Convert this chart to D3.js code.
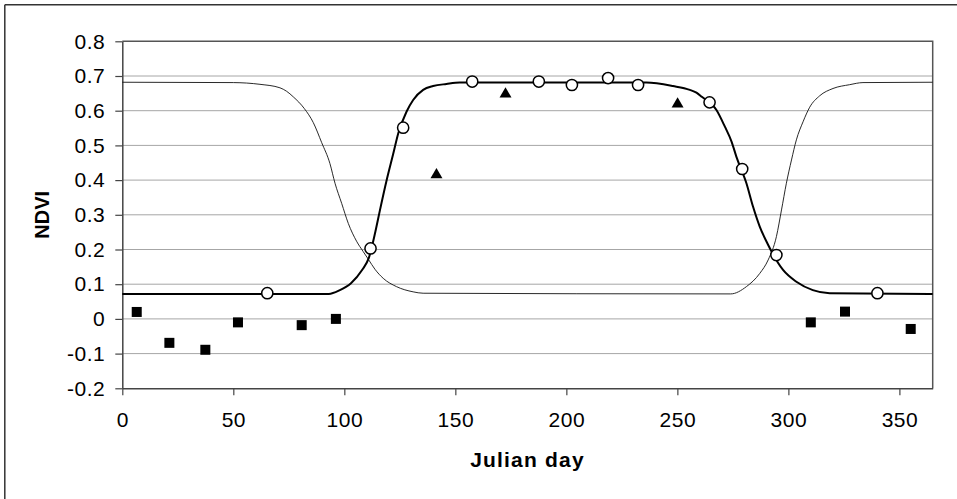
<!DOCTYPE html>
<html>
<head>
<meta charset="utf-8">
<script src="https://cdn.jsdelivr.net/npm/d3@7"></script>
<style>
  html, body { margin: 0; padding: 0; background: #fff; }
  svg { display: block; }
  text { font-family: "Liberation Sans", Arial, sans-serif; }
</style>
</head>
<body>
<svg id="chart" width="957" height="499"></svg>
<script>
// ---- data ----
const xTicks = [0, 50, 100, 150, 200, 250, 300, 350];
const yTicks = [-0.2, -0.1, 0, 0.1, 0.2, 0.3, 0.4, 0.5, 0.6, 0.7, 0.8];

// fitted curve rising in spring / falling in autumn (bold)
const boldDays = [0, 93, 98, 103, 108, 111, 114, 116, 119, 122, 124.3, 128, 131, 135.5, 140, 146, 152, 236, 248, 255.6, 258.6, 261, 267.6, 271.4, 274.4, 276.6, 281.1, 284.1, 287.1, 290.9, 297.6, 303.6, 311, 318.6, 365];
const boldNdvi = [0.072, 0.072, 0.083, 0.103, 0.141, 0.175, 0.252, 0.312, 0.398, 0.475, 0.535, 0.597, 0.631, 0.660, 0.671, 0.677, 0.681, 0.681, 0.671, 0.660, 0.652, 0.640, 0.602, 0.554, 0.511, 0.467, 0.391, 0.323, 0.266, 0.213, 0.141, 0.107, 0.083, 0.074, 0.072];

// inverse curve (thin)
const thinDays = [0, 50, 62, 71, 74, 77, 82, 86, 89.8, 93.5, 95.8, 98.8, 101.8, 105.5, 108.5, 110.8, 113.8, 117.5, 123.5, 131, 135.5, 274, 281.1, 287.1, 290.9, 294.6, 296.9, 299.1, 301.4, 303.6, 306.6, 309.6, 314.1, 320.1, 327.6, 333.6, 365];
const thinNdvi = [0.682, 0.681, 0.676, 0.666, 0.656, 0.640, 0.606, 0.566, 0.508, 0.448, 0.391, 0.333, 0.275, 0.224, 0.194, 0.172, 0.143, 0.117, 0.093, 0.078, 0.074, 0.072, 0.093, 0.131, 0.170, 0.237, 0.314, 0.391, 0.458, 0.516, 0.568, 0.610, 0.643, 0.664, 0.675, 0.681, 0.682];

// observations
const squareDays = [6.5, 21.2, 37.4, 52.1, 80.8, 96.2, 310.1, 325.5, 355.1];
const squareNdvi = [0.02, -0.069, -0.089, -0.01, -0.018, 0.0, -0.01, 0.021, -0.029];

const triangleDays = [141.5, 172.6, 250.1];
const triangleNdvi = [0.415, 0.648, 0.619];

const circleDays = [65.3, 111.8, 126.5, 157.6, 187.6, 202.5, 218.8, 232.3, 264.5, 279.2, 294.6, 340.1];
const circleNdvi = [0.074, 0.203, 0.551, 0.684, 0.684, 0.674, 0.694, 0.674, 0.624, 0.432, 0.184, 0.074];

// ---- drawing ----
const svg = d3.select("#chart");
const pLeft = 122.3, pRight = 932.7, pTop = 41.3, pBottom = 388.3;

const x = d3.scaleLinear().domain([0, 365]).range([pLeft, pRight]);
const y = d3.scaleLinear().domain([-0.2, 0.8]).range([pBottom, pTop]);

// outer frame (only left & top visible in reference)
svg.append("line").attr("x1", 4.8).attr("x2", 4.8).attr("y1", 4.8).attr("y2", 499)
  .attr("stroke", "#333").attr("stroke-width", 1.5);
svg.append("line").attr("x1", 4.8).attr("x2", 957).attr("y1", 4.8).attr("y2", 4.8)
  .attr("stroke", "#333").attr("stroke-width", 1.5);

// gridlines
svg.append("g").selectAll("line").data(yTicks.filter(v => v > -0.2 && v < 0.8)).join("line")
  .attr("x1", pLeft).attr("x2", pRight)
  .attr("y1", d => y(d)).attr("y2", d => y(d))
  .attr("stroke", "#a6a6a6").attr("stroke-width", 1);

// plot border top/right
svg.append("path")
  .attr("d", `M${pLeft},${pTop}H${pRight}V${pBottom}`)
  .attr("fill", "none").attr("stroke", "#555").attr("stroke-width", 1.5);

// axes
const xAxis = d3.axisBottom(x).tickValues(xTicks).tickSize(7).tickSizeOuter(0).tickPadding(17)
  .tickFormat(d3.format("d"));
const gx = svg.append("g").attr("transform", `translate(0,${pBottom})`).call(xAxis);
const yAxis = d3.axisLeft(y).tickValues(yTicks).tickSize(7).tickSizeOuter(0).tickPadding(10)
  .tickFormat(d => d === 0 ? "0" : d3.format(".1f")(d).replace("\u2212", "-"));
const gy = svg.append("g").attr("transform", `translate(${pLeft},0)`).call(yAxis);

[gx, gy].forEach(g => {
  g.select(".domain").attr("stroke", "#444").attr("stroke-width", 1.5);
  g.selectAll(".tick line").attr("stroke", "#444").attr("stroke-width", 1.2);
  g.selectAll(".tick text").attr("fill", "#000")
    .style("font-family", "'Liberation Sans', Arial, sans-serif").style("font-size", "21px")
    .style("letter-spacing", "0.5px");
});

// curves
const line = d3.line().x(d => x(d[0])).y(d => y(d[1])).curve(d3.curveMonotoneX);
svg.append("path").datum(thinDays.map((d, i) => [d, thinNdvi[i]]))
  .attr("d", line).attr("fill", "none").attr("stroke", "#111").attr("stroke-width", 0.9);
svg.append("path").datum(boldDays.map((d, i) => [d, boldNdvi[i]]))
  .attr("d", line).attr("fill", "none").attr("stroke", "#000").attr("stroke-width", 2);

// squares
svg.append("g").selectAll("rect").data(squareDays.map((d, i) => [d, squareNdvi[i]])).join("rect")
  .attr("x", d => x(d[0]) - 5).attr("y", d => y(d[1]) - 5)
  .attr("width", 10).attr("height", 10).attr("fill", "#000");

// triangles
const tri = d3.symbol().type(d3.symbolTriangle).size(62);
svg.append("g").selectAll("path").data(triangleDays.map((d, i) => [d, triangleNdvi[i]])).join("path")
  .attr("d", tri).attr("transform", d => `translate(${x(d[0])},${y(d[1])})`).attr("fill", "#000");

// circles
svg.append("g").selectAll("circle").data(circleDays.map((d, i) => [d, circleNdvi[i]])).join("circle")
  .attr("cx", d => x(d[0])).attr("cy", d => y(d[1])).attr("r", 5.6)
  .attr("fill", "#fff").attr("stroke", "#000").attr("stroke-width", 1.5);

// axis titles
svg.append("text").attr("x", (pLeft + pRight) / 2).attr("y", 467)
  .attr("text-anchor", "middle").style("font-weight", "bold").style("font-size", "21px")
  .style("letter-spacing", "1.2px")
  .text("Julian day");
svg.append("text").attr("transform", `translate(49,${(pTop + pBottom) / 2}) rotate(-90)`)
  .attr("text-anchor", "middle").style("font-weight", "bold").style("font-size", "20px")
  .text("NDVI");
</script>
</body>
</html>
